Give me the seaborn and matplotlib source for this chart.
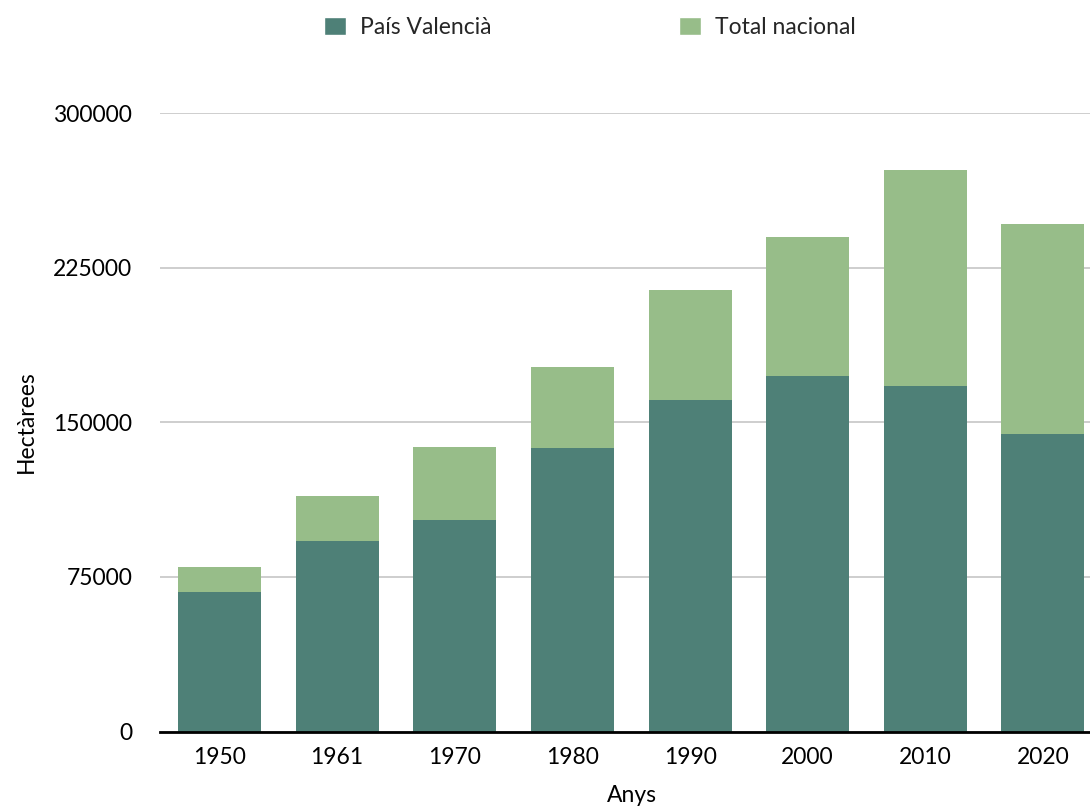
import matplotlib
matplotlib.use("Agg")
import matplotlib.pyplot as plt
import seaborn as sns
import pandas as pd
from matplotlib.patches import Patch

years = ["1950", "1961", "1970", "1980", "1990", "2000", "2010", "2020"]
pais_valencia = [67500, 92200, 102400, 137400, 160700, 172300, 167500, 144200]
total_nacional = [79600, 114000, 137900, 176700, 214100, 239800, 272300, 246100]
yticks = [0, 75000, 150000, 225000, 300000]

dark = "#4e8077"
light = "#97bd89"
fs = 16.5

sns.set_theme(style="white")
plt.rcParams['font.family'] = ['Lato', 'DejaVu Sans']

df = pd.DataFrame({"Anys": years, "PV": pais_valencia, "TN": total_nacional})

fig = plt.figure(figsize=(10.9, 8.09), dpi=100)
ax = fig.add_axes([160/1090, (809-731.5)/809, 930/1090, (731.5-113)/809])

sns.barplot(data=df, x="Anys", y="TN", color=light, width=0.706, saturation=1,
            linewidth=0, edgecolor="none", ax=ax, zorder=2)
sns.barplot(data=df, x="Anys", y="PV", color=dark, width=0.706, saturation=1,
            linewidth=0, edgecolor="none", ax=ax, zorder=3)

ax.set_ylim(0, 300000)
ax.set_xlim(-0.506, 7.40)
ax.set_yticks(yticks)
ax.set_yticklabels([str(v) for v in yticks])
ax.yaxis.grid(True, color="#c6c6c6", linewidth=1.2, zorder=0)
ax.set_axisbelow(True)
for s in ["top", "right", "left"]:
    ax.spines[s].set_visible(False)
ax.spines["bottom"].set_color("black")
ax.spines["bottom"].set_linewidth(2)
ax.spines["bottom"].set_zorder(5)
ax.tick_params(axis="y", length=0, pad=20, labelsize=fs, colors="black")
ax.tick_params(axis="x", length=0, pad=11, labelsize=fs, colors="black")

ax.set_xlabel("Anys", fontsize=fs, color="black")
ax.set_ylabel("Hectàrees", fontsize=fs, color="black")
ax.xaxis.set_label_coords((632-160)/930, (731.5-785)/618.5)
ax.yaxis.set_label_coords((37-160)/930, 0.501)

handles = [Patch(facecolor=dark, label="País Valencià"), Patch(facecolor=light, label="Total nacional")]
fig.legend(handles=handles, loc="center", bbox_to_anchor=(590/1090, 1 - 27/809), ncol=2,
           frameon=False, fontsize=fs, handlelength=0.96, handleheight=0.83,
           handletextpad=0.6, columnspacing=8.2)

fig.savefig("out.png", dpi=100)
